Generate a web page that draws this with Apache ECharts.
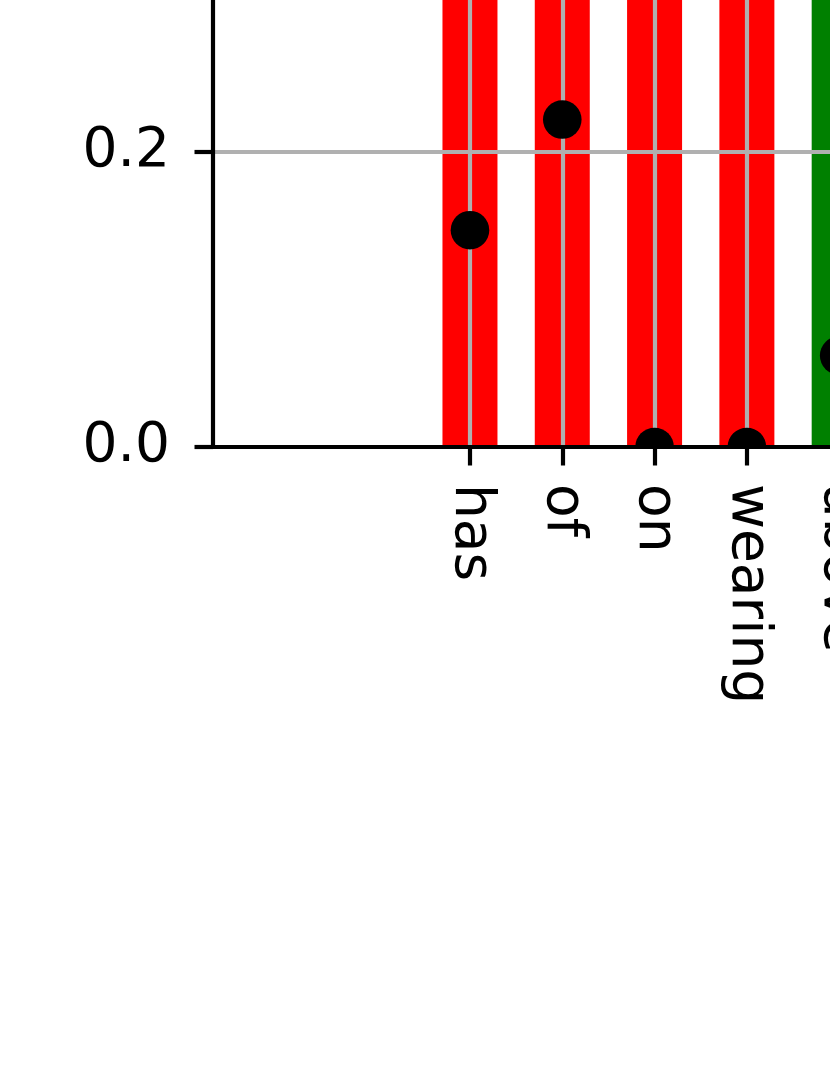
<!DOCTYPE html>
<html>
<head>
<meta charset="utf-8">
<style>
  html, body { margin: 0; padding: 0; background: #ffffff; }
  #chart { width: 830px; height: 1075px; }
</style>
<script src="https://cdn.jsdelivr.net/npm/echarts@6/dist/echarts.min.js"></script>
</head>
<body>
<div id="chart"></div>
<script>
// ---- data ----
const categories = ['has', 'of', 'on', 'wearing', 'above'];
const barValues = [1.0, 1.0, 1.0, 1.0, 1.0];
const groups = [0, 0, 0, 0, 1];
const dotValues = [0.147, 0.222, 0.0, 0.0, 0.062];
const yTickValues = [0.0, 0.2, 0.4, 0.6, 0.8, 1.0];

// ---- styles ----
const palette = ['#ff0000', '#008000'];
const FONT = 'DejaVu Sans';
const FONT_SIZE = 55;
const LINE_W = 4.2;
const DOT_R = 19.3;

const idx = categories.map((_, i) => i);
const barData = barValues.map((v, i) => ({
  value: [i, v],
  itemStyle: { color: palette[groups[i]] }
}));
const dotData = dotValues.map((v, i) => [i, v]);

const chart = echarts.init(document.getElementById('chart'), null, { renderer: 'canvas' });
chart.setOption({
  animation: false,
  backgroundColor: '#ffffff',
  grid: {
    left: 213,
    right: -563,
    top: -1028,
    bottom: 628,
    containLabel: false,
    outerBoundsMode: 'none'
  },
  xAxis: {
    type: 'value',
    min: -2.784,
    max: 10,
    z: 3,
    axisLine: { show: true, onZero: false, lineStyle: { color: '#000', width: LINE_W } },
    axisTick: { show: true, customValues: idx, length: 18.5, lineStyle: { color: '#000', width: LINE_W } },
    axisLabel: {
      show: true,
      customValues: idx,
      rotate: -90,
      margin: 37,
      fontFamily: FONT,
      fontSize: FONT_SIZE,
      color: '#000',
      formatter: v => categories[Math.round(v)] ?? ''
    },
    splitLine: { show: true, lineStyle: { color: '#b0b0b0', width: LINE_W } }
  },
  yAxis: {
    type: 'value',
    min: 0,
    max: 1,
    interval: 0.2,
    z: 3,
    axisLine: { show: true, onZero: false, lineStyle: { color: '#000', width: LINE_W } },
    axisTick: { show: true, length: 18.5, lineStyle: { color: '#000', width: LINE_W } },
    axisLabel: {
      show: true,
      margin: 43,
      fontFamily: FONT,
      fontSize: FONT_SIZE,
      color: '#000',
      formatter: v => v.toFixed(1)
    },
    splitLine: { show: true, lineStyle: { color: '#b0b0b0', width: LINE_W } }
  },
  series: [
    {
      type: 'bar',
      data: barData,
      barWidth: 55,
      z: 2
    },
    {
      type: 'custom',
      data: dotData,
      encode: { x: 0, y: 1 },
      clip: true,
      z: 5,
      renderItem: function (params, api) {
        const p = api.coord([api.value(0), api.value(1)]);
        return {
          type: 'circle',
          shape: { cx: p[0], cy: p[1], r: DOT_R },
          style: { fill: '#000' }
        };
      }
    }
  ]
});
</script>
</body>
</html>
